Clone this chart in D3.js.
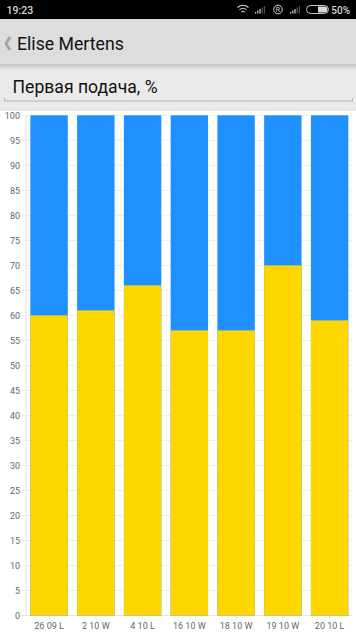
<!DOCTYPE html>
<html>
<head>
<meta charset="utf-8">
<script src="https://cdn.jsdelivr.net/npm/d3@7"></script>
<style>
html, body { margin: 0; padding: 0; background: #fff; overflow: hidden; }
svg { display: block; }
text { font-family: Roboto, sans-serif; }
</style>
</head>
<body>
<div id="chart"></div>
<script>
var matches = ["26 09 L", "2 10 W", "4 10 L", "16 10 W", "18 10 W", "19 10 W", "20 10 L"];
var firstServe = [60, 61, 66, 57, 57, 70, 59];
var yTicks = d3.range(0, 105, 5);
var clockLabel = "19:23";
var batteryLabel = "50%";
var playerName = "Elise Mertens";
var chartTitle = "Первая подача, %";

var width = 356, height = 634;
var svg = d3.select("#chart").append("svg")
    .attr("width", width)
    .attr("height", height);

// status bar
svg.append("rect").attr("width", width).attr("height", 19).attr("fill", "#000");
svg.append("text").text(clockLabel).attr("x", 6.5).attr("y", 14)
    .attr("fill", "#d8d8d8").attr("font-size", 10.5).attr("font-weight", 500);
svg.append("text").text(batteryLabel).attr("x", 350).attr("y", 14).attr("text-anchor", "end")
    .attr("fill", "#d8d8d8").attr("font-size", 10).attr("font-weight", 500);

var icons = svg.append("g").attr("fill", "none").attr("stroke", "#d8d8d8");
// wifi
icons.append("path").attr("d", "M237.5,7.5 Q243,3 248.5,7.5").attr("stroke-width", 1.1);
icons.append("path").attr("d", "M239.5,9.8 Q243,6.8 246.5,9.8").attr("stroke-width", 1.1);
icons.append("path").attr("d", "M241.3,12 Q243,10.6 244.7,12").attr("stroke-width", 1.1);
// signal bars
[255, 290].forEach(function(x0){
    d3.range(5).forEach(function(i){
        icons.append("rect").attr("x", x0 + i * 2.2).attr("y", 13.5 - (i + 1) * 1.5)
            .attr("width", 1.2).attr("height", (i + 1) * 1.5)
            .attr("fill", i < 3 ? "#d8d8d8" : "#555").attr("stroke", "none");
    });
});
// R badge
icons.append("circle").attr("cx", 278).attr("cy", 9.5).attr("r", 4.3).attr("stroke-width", 1);
svg.append("text").text("R").attr("x", 278).attr("y", 12).attr("text-anchor", "middle")
    .attr("fill", "#d8d8d8").attr("font-size", 7);
// battery
icons.append("rect").attr("x", 306.5).attr("y", 5.5).attr("width", 22).attr("height", 8).attr("rx", 4).attr("stroke-width", 0.9);
svg.append("path").attr("d", "M318,6.5 H324.5 A3,3 0 0 1 324.5,12.5 H318 Z").attr("fill", "#d8d8d8");

// header
svg.append("rect").attr("y", 19).attr("width", width).attr("height", 46).attr("fill", "#dddddd");
var shadow = svg.append("g");
d3.range(5).forEach(function(i){
    shadow.append("rect").attr("y", 64 + i).attr("width", width).attr("height", 1)
        .attr("fill", ["#c6c6c6", "#cbcbcb", "#d2d2d2", "#dadada", "#e2e2e2"][i]);
});
svg.append("rect").attr("y", 69).attr("width", width).attr("height", 42).attr("fill", "#eaeaea");
svg.append("path").attr("d", "M10,37 L6,43.5 L10,50").attr("fill", "none")
    .attr("stroke", "#a4a4a4").attr("stroke-width", 3);
svg.append("text").text(playerName).attr("x", 17).attr("y", 50)
    .attr("fill", "#111").attr("font-size", 17.7);
svg.append("text").text(chartTitle).attr("x", 12.5).attr("y", 93)
    .attr("fill", "#111").attr("font-size", 17.6);
svg.append("path").attr("d", "M4.5,98 V101 H352.5 V98").attr("fill", "none")
    .attr("stroke", "#b5b5b5").attr("stroke-width", 1);

// chart
var x = d3.scaleBand().domain(matches).range([25.7, 353]).paddingInner(0.2).paddingOuter(0.1);
var y = d3.scaleLinear().domain([0, 100]).range([615.5, 115.3]);

svg.append("g").selectAll("line").data(yTicks).enter().append("line")
    .attr("x1", 21).attr("x2", 353)
    .attr("y1", function(d){ return y(d); })
    .attr("y2", function(d){ return y(d); })
    .attr("stroke", "#eeeeee").attr("stroke-width", 1);

svg.append("line").attr("x1", 26).attr("x2", 26).attr("y1", y(100)).attr("y2", y(0))
    .attr("stroke", "#dfe3e8").attr("stroke-width", 1);
svg.append("line").attr("x1", 21).attr("x2", 353).attr("y1", y(0)).attr("y2", y(0))
    .attr("stroke", "#dfe3e8").attr("stroke-width", 1);

svg.append("g").selectAll("rect").data(matches).enter().append("rect")
    .attr("x", function(d){ return x(d); })
    .attr("width", x.bandwidth())
    .attr("y", y(100))
    .attr("height", y(0) - y(100))
    .attr("fill", "#1e90ff");

svg.append("g").selectAll("rect").data(firstServe).enter().append("rect")
    .attr("x", function(d, i){ return x(matches[i]); })
    .attr("width", x.bandwidth())
    .attr("y", function(d){ return y(d); })
    .attr("height", function(d){ return y(0) - y(d); })
    .attr("fill", "#ffd700");

svg.append("g").selectAll("text").data(yTicks).enter().append("text")
    .text(function(d){ return d; })
    .attr("x", 20).attr("y", function(d){ return y(d) + 3.3; })
    .attr("text-anchor", "end").attr("fill", "#666").attr("font-size", 9);

svg.append("g").selectAll("line").data(matches).enter().append("line")
    .attr("x1", function(d){ return x(d) + x.bandwidth() / 2; })
    .attr("x2", function(d){ return x(d) + x.bandwidth() / 2; })
    .attr("y1", y(0)).attr("y2", y(0) + 4)
    .attr("stroke", "#dfe3e8");

svg.append("g").selectAll("text").data(matches).enter().append("text")
    .text(function(d){ return d; })
    .attr("x", function(d){ return x(d) + x.bandwidth() / 2; })
    .attr("y", 629)
    .attr("text-anchor", "middle").attr("fill", "#666").attr("font-size", 9);
</script>
</body>
</html>
